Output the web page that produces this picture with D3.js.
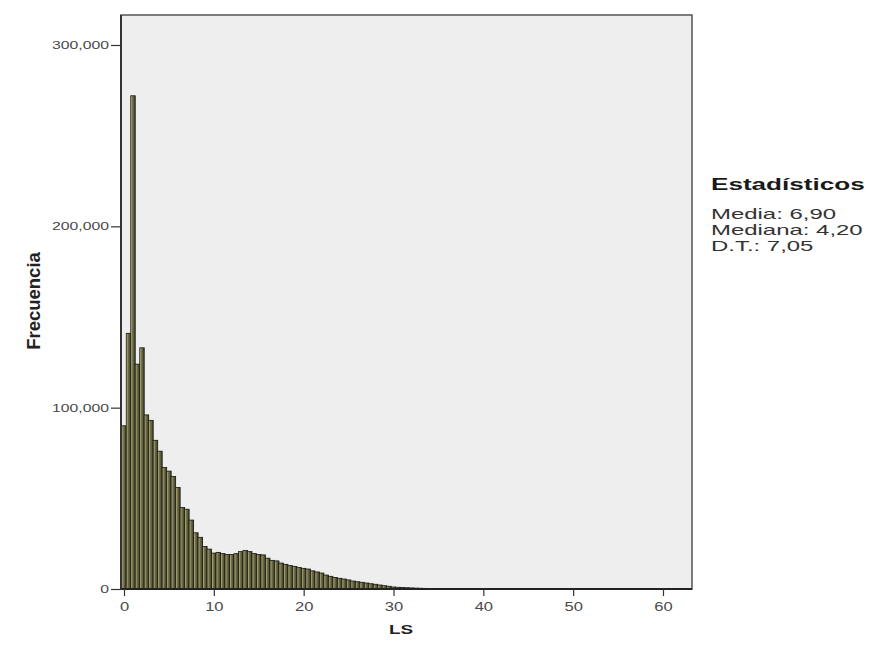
<!DOCTYPE html>
<meta charset="utf-8" />
<style>
  body { margin: 0; background: #fff; }
  text { font-family: "Liberation Sans", Arial, sans-serif; }
  .tick text { fill: #4a4a4a; }
  .tick line { stroke: #333; }
  .domain { display: none; }
</style>
<body>
<script src="https://d3js.org/d3.v7.min.js"></script>
<script>
  // histogram of LS, bins of width 0.5 centred on 0, 0.5, 1.0, ...
  var binWidth = 0.5;
  var lsCounts = [
    90000, 141000, 272000, 124000, 133000, 96000, 93000, 82000, 76000, 67000,
    65000, 62000, 56000, 45000, 44000, 38000, 31000, 28500, 23500, 22000,
    19800, 20200, 19500, 19000, 19000, 19500, 20600, 21300, 20600, 19500,
    19000, 18800, 17000, 15800, 15500, 14300, 13600, 12900, 12500, 11800,
    11400, 11000, 10000, 9400, 8800, 7700, 7000, 6300, 5900, 5500,
    5000, 4400, 4000, 3700, 3300, 2900, 2600, 2200, 1800, 1500,
    1100, 950, 800, 700, 600, 500, 420, 350, 300, 250,
    200, 170, 140, 120, 100, 90, 80, 70, 60, 50,
    45, 40, 35, 30, 25, 22, 20, 18, 15, 12,
    10, 9, 8, 7, 6, 5, 4, 3, 2, 1
  ];
  var xTicks = [0, 10, 20, 30, 40, 50, 60];
  var yTicks = [0, 100000, 200000, 300000];
  var statsTitle = 'Estadísticos';
  var statsLines = ['Media: 6,90', 'Mediana: 4,20', 'D.T.: 7,05'];

  var W = 878, H = 646;
  var frame = { left: 121, right: 692, top: 15, bottom: 589 };

  var svg = d3.select('body').append('svg')
    .attr('width', W).attr('height', H);

  var x = d3.scaleLinear().domain([0, 60]).range([124, 663]);
  var y = d3.scaleLinear().domain([0, 300000]).range([589, 45]);

  // widen text horizontally, the original picture is stretched
  function widen(sel, k) {
    sel.each(function () {
      var len = this.getComputedTextLength();
      d3.select(this).attr('textLength', len * k).attr('lengthAdjust', 'spacingAndGlyphs');
    });
  }

  var defs = svg.append('defs');
  var grad = defs.append('linearGradient').attr('id', 'barFill')
    .attr('x1', '0%').attr('x2', '100%').attr('y1', '0%').attr('y2', '0%');
  grad.append('stop').attr('offset', '0%').attr('stop-color', '#cfcd92');
  grad.append('stop').attr('offset', '40%').attr('stop-color', '#74724a');
  grad.append('stop').attr('offset', '100%').attr('stop-color', '#3c3b28');

  // plot area
  svg.append('rect')
    .attr('x', frame.left).attr('y', frame.top)
    .attr('width', frame.right - frame.left).attr('height', frame.bottom - frame.top)
    .attr('fill', '#eeeeee').attr('stroke', '#555').attr('stroke-width', 1.5);

  // bars
  svg.append('g').selectAll('rect')
    .data(lsCounts)
    .enter().append('rect')
    .attr('x', function (d, i) { return x(i * binWidth - binWidth / 2); })
    .attr('width', function (d, i) { return x(binWidth) - x(0); })
    .attr('y', function (d) { return y(d); })
    .attr('height', function (d) { return y(0) - y(d); })
    .attr('fill', 'url(#barFill)')
    .attr('stroke', '#15150f')
    .attr('stroke-width', 0.8);

  // axis lines
  svg.append('line').attr('x1', frame.left).attr('x2', frame.left)
    .attr('y1', frame.top).attr('y2', frame.bottom)
    .attr('stroke', '#333').attr('stroke-width', 2);
  svg.append('line').attr('x1', frame.left).attr('x2', frame.right)
    .attr('y1', frame.bottom).attr('y2', frame.bottom)
    .attr('stroke', '#222').attr('stroke-width', 2);

  var xAxis = svg.append('g')
    .attr('transform', 'translate(0,' + frame.bottom + ')')
    .call(d3.axisBottom(x).tickValues(xTicks).tickSize(7).tickPadding(6).tickFormat(d3.format('d')));
  xAxis.selectAll('text').style('font-size', '12px');
  xAxis.selectAll('.tick line').attr('stroke-width', 1.2);
  widen(xAxis.selectAll('text'), 1.38);

  var yAxis = svg.append('g')
    .attr('transform', 'translate(' + frame.left + ',0)')
    .call(d3.axisLeft(y).tickValues(yTicks).tickSize(10).tickPadding(2).tickFormat(d3.format(',')));
  yAxis.selectAll('text').style('font-size', '10.5px');
  yAxis.selectAll('.tick line').attr('stroke-width', 1.2);
  widen(yAxis.selectAll('text'), 1.5);

  // axis titles
  svg.append('text')
    .attr('transform', 'translate(40,301) rotate(-90)')
    .attr('text-anchor', 'middle')
    .style('font-size', '18.5px').style('font-weight', 'bold').attr('fill', '#222')
    .text('Frecuencia');

  var xTitle = svg.append('text')
    .attr('x', 401).attr('y', 634)
    .attr('text-anchor', 'middle')
    .style('font-size', '13.5px').style('font-weight', 'bold').attr('fill', '#222')
    .text('LS');
  widen(xTitle, 1.4);

  // statistics box
  var stats = svg.append('g');
  var head = stats.append('text')
    .attr('x', 711).attr('y', 190)
    .style('font-size', '16px').style('font-weight', 'bold').attr('fill', '#1a1a1a')
    .text(statsTitle);
  widen(head, 1.63);

  var lines = stats.selectAll('text.line')
    .data(statsLines)
    .enter().append('text')
    .attr('class', 'line')
    .attr('x', 711)
    .attr('y', function (d, i) { return 219 + i * 16; })
    .style('font-size', '14.5px').attr('fill', '#333')
    .text(function (d) { return d; });
  widen(lines, 1.65);
</script>
</body>
